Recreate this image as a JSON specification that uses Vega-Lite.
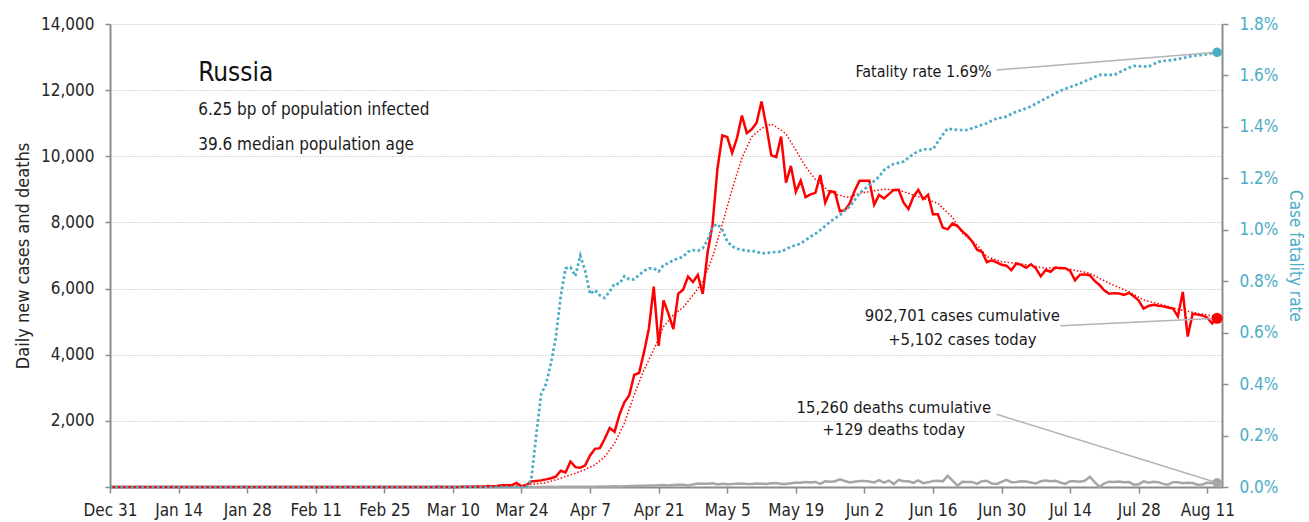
{
"$schema":"https://vega.github.io/schema/vega-lite/v6.json",
"width":1112,"height":463,"autosize":"none",
"padding":{"left":110,"top":24,"right":87,"bottom":35},
"config":{"font":"DejaVu Sans Condensed","view":{"stroke":null},"background":"white"},
"datasets":{
"daily":[
{"date":"2019-12-31","cases":0,"ma":0,"deaths":0,"cfr":0},
{"date":"2020-01-01","cases":0,"ma":0,"deaths":0,"cfr":0},{"date":"2020-01-02","cases":0,"ma":0,"deaths":0,"cfr":0},{"date":"2020-01-03","cases":0,"ma":0,"deaths":0,"cfr":0},{"date":"2020-01-04","cases":0,"ma":0,"deaths":0,"cfr":0},{"date":"2020-01-05","cases":0,"ma":0,"deaths":0,"cfr":0},{"date":"2020-01-06","cases":0,"ma":0,"deaths":0,"cfr":0},{"date":"2020-01-07","cases":0,"ma":0,"deaths":0,"cfr":0},{"date":"2020-01-08","cases":0,"ma":0,"deaths":0,"cfr":0},{"date":"2020-01-09","cases":0,"ma":0,"deaths":0,"cfr":0},{"date":"2020-01-10","cases":0,"ma":0,"deaths":0,"cfr":0},
{"date":"2020-01-11","cases":0,"ma":0,"deaths":0,"cfr":0},{"date":"2020-01-12","cases":0,"ma":0,"deaths":0,"cfr":0},{"date":"2020-01-13","cases":0,"ma":0,"deaths":0,"cfr":0},{"date":"2020-01-14","cases":0,"ma":0,"deaths":0,"cfr":0},{"date":"2020-01-15","cases":0,"ma":0,"deaths":0,"cfr":0},{"date":"2020-01-16","cases":0,"ma":0,"deaths":0,"cfr":0},{"date":"2020-01-17","cases":0,"ma":0,"deaths":0,"cfr":0},{"date":"2020-01-18","cases":0,"ma":0,"deaths":0,"cfr":0},{"date":"2020-01-19","cases":0,"ma":0,"deaths":0,"cfr":0},{"date":"2020-01-20","cases":0,"ma":0,"deaths":0,"cfr":0},
{"date":"2020-01-21","cases":0,"ma":0,"deaths":0,"cfr":0},{"date":"2020-01-22","cases":0,"ma":0,"deaths":0,"cfr":0},{"date":"2020-01-23","cases":0,"ma":0,"deaths":0,"cfr":0},{"date":"2020-01-24","cases":0,"ma":0,"deaths":0,"cfr":0},{"date":"2020-01-25","cases":0,"ma":0,"deaths":0,"cfr":0},{"date":"2020-01-26","cases":0,"ma":0,"deaths":0,"cfr":0},{"date":"2020-01-27","cases":0,"ma":0,"deaths":0,"cfr":0},{"date":"2020-01-28","cases":0,"ma":0,"deaths":0,"cfr":0},{"date":"2020-01-29","cases":0,"ma":0,"deaths":0,"cfr":0},{"date":"2020-01-30","cases":0,"ma":0,"deaths":0,"cfr":0},
{"date":"2020-01-31","cases":0,"ma":0,"deaths":0,"cfr":0},{"date":"2020-02-01","cases":2,"ma":0,"deaths":0,"cfr":0},{"date":"2020-02-02","cases":0,"ma":0,"deaths":0,"cfr":0},{"date":"2020-02-03","cases":0,"ma":0,"deaths":0,"cfr":0},{"date":"2020-02-04","cases":0,"ma":0,"deaths":0,"cfr":0},{"date":"2020-02-05","cases":0,"ma":0,"deaths":0,"cfr":0},{"date":"2020-02-06","cases":0,"ma":0,"deaths":0,"cfr":0},{"date":"2020-02-07","cases":0,"ma":0,"deaths":0,"cfr":0},{"date":"2020-02-08","cases":0,"ma":0,"deaths":0,"cfr":0},{"date":"2020-02-09","cases":0,"ma":0,"deaths":0,"cfr":0},
{"date":"2020-02-10","cases":0,"ma":0,"deaths":0,"cfr":0},{"date":"2020-02-11","cases":0,"ma":0,"deaths":0,"cfr":0},{"date":"2020-02-12","cases":0,"ma":0,"deaths":0,"cfr":0},{"date":"2020-02-13","cases":0,"ma":0,"deaths":0,"cfr":0},{"date":"2020-02-14","cases":0,"ma":0,"deaths":0,"cfr":0},{"date":"2020-02-15","cases":0,"ma":0,"deaths":0,"cfr":0},{"date":"2020-02-16","cases":0,"ma":0,"deaths":0,"cfr":0},{"date":"2020-02-17","cases":0,"ma":0,"deaths":0,"cfr":0},{"date":"2020-02-18","cases":0,"ma":0,"deaths":0,"cfr":0},{"date":"2020-02-19","cases":0,"ma":0,"deaths":0,"cfr":0},
{"date":"2020-02-20","cases":0,"ma":0,"deaths":0,"cfr":0},{"date":"2020-02-21","cases":0,"ma":0,"deaths":0,"cfr":0},{"date":"2020-02-22","cases":0,"ma":0,"deaths":0,"cfr":0},{"date":"2020-02-23","cases":0,"ma":0,"deaths":0,"cfr":0},{"date":"2020-02-24","cases":0,"ma":0,"deaths":0,"cfr":0},{"date":"2020-02-25","cases":0,"ma":0,"deaths":0,"cfr":0},{"date":"2020-02-26","cases":0,"ma":0,"deaths":0,"cfr":0},{"date":"2020-02-27","cases":0,"ma":0,"deaths":0,"cfr":0},{"date":"2020-02-28","cases":0,"ma":0,"deaths":0,"cfr":0},{"date":"2020-02-29","cases":0,"ma":0,"deaths":0,"cfr":0},
{"date":"2020-03-01","cases":0,"ma":0,"deaths":0,"cfr":0},{"date":"2020-03-02","cases":0,"ma":0,"deaths":0,"cfr":0},{"date":"2020-03-03","cases":1,"ma":0,"deaths":0,"cfr":0},{"date":"2020-03-04","cases":0,"ma":0,"deaths":0,"cfr":0},{"date":"2020-03-05","cases":0,"ma":0,"deaths":0,"cfr":0},{"date":"2020-03-06","cases":1,"ma":0,"deaths":0,"cfr":0},{"date":"2020-03-07","cases":6,"ma":0,"deaths":0,"cfr":0},{"date":"2020-03-08","cases":0,"ma":0,"deaths":0,"cfr":0},{"date":"2020-03-09","cases":3,"ma":0,"deaths":0,"cfr":0},{"date":"2020-03-10","cases":0,"ma":0,"deaths":0,"cfr":0},
{"date":"2020-03-11","cases":3,"deaths":0,"cfr":0},{"date":"2020-03-12","cases":8,"deaths":0,"cfr":0},{"date":"2020-03-13","cases":6,"deaths":0,"cfr":0},{"date":"2020-03-14","cases":11,"deaths":0,"cfr":0},{"date":"2020-03-15","cases":14,"deaths":0,"cfr":0},{"date":"2020-03-16","cases":4,"deaths":0,"cfr":0},{"date":"2020-03-17","cases":27,"deaths":0,"cfr":0},{"date":"2020-03-18","cases":24,"ma":20,"deaths":0,"cfr":0},{"date":"2020-03-19","cases":33,"deaths":0,"cfr":0},{"date":"2020-03-20","cases":52,"deaths":0,"cfr":0},
{"date":"2020-03-21","cases":54,"deaths":0,"cfr":0},{"date":"2020-03-22","cases":53,"deaths":0,"cfr":0},{"date":"2020-03-23","cases":125,"deaths":0,"cfr":0},{"date":"2020-03-24","cases":25,"ma":50,"deaths":0,"cfr":0},{"date":"2020-03-25","cases":60,"deaths":0,"cfr":0},{"date":"2020-03-26","cases":170,"deaths":1,"cfr":0.0003},{"date":"2020-03-27","cases":185,"deaths":1,"cfr":0.002},{"date":"2020-03-28","cases":200,"deaths":1,"cfr":0.0036},{"date":"2020-03-29","cases":230,"ma":130,"deaths":1,"cfr":0.004},{"date":"2020-03-30","cases":265,"deaths":4,"cfr":0.0048},
{"date":"2020-03-31","cases":310,"deaths":1,"cfr":0.0058},{"date":"2020-04-01","cases":490,"ma":263,"deaths":8,"cfr":0.0074},{"date":"2020-04-02","cases":440,"deaths":7,"cfr":0.0085},{"date":"2020-04-03","cases":771,"deaths":6,"cfr":0.00855},{"date":"2020-04-04","cases":601,"deaths":4,"cfr":0.0082},{"date":"2020-04-05","cases":582,"ma":470,"deaths":9,"cfr":0.009},{"date":"2020-04-06","cases":658,"deaths":4,"cfr":0.0084},{"date":"2020-04-07","cases":954,"deaths":11,"cfr":0.0075},{"date":"2020-04-08","cases":1154,"ma":665,"deaths":5,"cfr":0.00765},{"date":"2020-04-09","cases":1175,"deaths":13,"cfr":0.00745},
{"date":"2020-04-10","cases":1459,"ma":917,"deaths":18,"cfr":0.00735},{"date":"2020-04-11","cases":1786,"deaths":12,"cfr":0.0076},{"date":"2020-04-12","cases":1667,"ma":1321,"deaths":24,"cfr":0.0079},{"date":"2020-04-13","cases":2186,"deaths":18,"cfr":0.0079},{"date":"2020-04-14","cases":2558,"ma":1926,"deaths":22,"cfr":0.0082},{"date":"2020-04-15","cases":2774,"deaths":28,"cfr":0.00807},{"date":"2020-04-16","cases":3388,"ma":2782,"deaths":34,"cfr":0.00807},{"date":"2020-04-17","cases":3448,"deaths":41,"cfr":0.00824},{"date":"2020-04-18","cases":4070,"ma":3538,"deaths":40,"cfr":0.0084},{"date":"2020-04-19","cases":4785,"deaths":48,"cfr":0.0085},
{"date":"2020-04-20","cases":6060,"ma":4150,"deaths":44,"cfr":0.0085},{"date":"2020-04-21","cases":4268,"deaths":51,"cfr":0.00838},{"date":"2020-04-22","cases":5642,"ma":4850,"deaths":57,"cfr":0.00863},{"date":"2020-04-23","cases":5236,"deaths":42,"cfr":0.0087},{"date":"2020-04-24","cases":4774,"ma":5200,"deaths":60,"cfr":0.00882},{"date":"2020-04-25","cases":5849,"deaths":66,"cfr":0.00889},{"date":"2020-04-26","cases":5966,"ma":5430,"deaths":66,"cfr":0.00895},{"date":"2020-04-27","cases":6361,"deaths":47,"cfr":0.00915},{"date":"2020-04-28","cases":6198,"ma":5800,"deaths":73,"cfr":0.00921},{"date":"2020-04-29","cases":6411,"deaths":105,"cfr":0.00918},
{"date":"2020-04-30","cases":5841,"ma":6200,"deaths":101,"cfr":0.00928},{"date":"2020-05-01","cases":7099,"deaths":96,"cfr":0.0096},{"date":"2020-05-02","cases":7933,"ma":6950,"deaths":111,"cfr":0.01012},{"date":"2020-05-03","cases":9623,"deaths":76,"cfr":0.01022},{"date":"2020-05-04","cases":10633,"ma":7950,"deaths":95,"cfr":0.00999},{"date":"2020-05-05","cases":10581,"deaths":86,"cfr":0.00955},{"date":"2020-05-06","cases":10102,"ma":9000,"deaths":88,"cfr":0.00935},{"date":"2020-05-07","cases":10559,"deaths":98,"cfr":0.00926},{"date":"2020-05-08","cases":11231,"ma":9950,"deaths":104,"cfr":0.00922},{"date":"2020-05-09","cases":10699,"deaths":88,"cfr":0.00918},
{"date":"2020-05-10","cases":10817,"ma":10590,"deaths":94,"cfr":0.00918},{"date":"2020-05-11","cases":11012,"deaths":107,"cfr":0.00915},{"date":"2020-05-12","cases":11656,"ma":10845,"deaths":96,"cfr":0.00908},{"date":"2020-05-13","cases":10899,"deaths":93,"cfr":0.0091},{"date":"2020-05-14","cases":10028,"ma":10977,"deaths":113,"cfr":0.00912},{"date":"2020-05-15","cases":9974,"deaths":119,"cfr":0.00914},{"date":"2020-05-16","cases":10598,"ma":10795,"deaths":94,"cfr":0.00915},{"date":"2020-05-17","cases":9200,"ma":10675,"deaths":91,"cfr":0.00925},{"date":"2020-05-18","cases":9709,"deaths":115,"cfr":0.00934},{"date":"2020-05-19","cases":8926,"ma":10191,"deaths":135,"cfr":0.0094},
{"date":"2020-05-20","cases":9263,"deaths":127,"cfr":0.00947},{"date":"2020-05-21","cases":8764,"ma":9686,"deaths":150,"cfr":0.0096},{"date":"2020-05-22","cases":8849,"deaths":139,"cfr":0.00973},{"date":"2020-05-23","cases":8894,"ma":9300,"deaths":153,"cfr":0.00985},{"date":"2020-05-24","cases":9434,"ma":9185,"deaths":92,"cfr":0.00999},{"date":"2020-05-25","cases":8599,"deaths":174,"cfr":0.01015},{"date":"2020-05-26","cases":8946,"ma":8900,"deaths":161,"cfr":0.01031},{"date":"2020-05-27","cases":8915,"deaths":174,"cfr":0.01045},{"date":"2020-05-28","cases":8338,"deaths":232,"cfr":0.01057},{"date":"2020-05-29","cases":8371,"ma":8779,"deaths":181,"cfr":0.01075},
{"date":"2020-05-30","cases":8572,"ma":8761,"deaths":138,"cfr":0.0109},{"date":"2020-05-31","cases":8952,"deaths":162,"cfr":0.01115},{"date":"2020-06-01","cases":9263,"ma":8882,"deaths":182,"cfr":0.01142},{"date":"2020-06-02","cases":9263,"deaths":178,"cfr":0.01158},{"date":"2020-06-03","cases":9263,"deaths":169,"cfr":0.01174},{"date":"2020-06-04","cases":8536,"ma":8960,"deaths":136,"cfr":0.0119},{"date":"2020-06-05","cases":8831,"deaths":205,"cfr":0.01206},{"date":"2020-06-06","cases":8726,"ma":9002,"deaths":134,"cfr":0.01232},{"date":"2020-06-07","cases":8855,"deaths":195,"cfr":0.01245},{"date":"2020-06-08","cases":8984,"deaths":88,"cfr":0.01256},
{"date":"2020-06-09","cases":8985,"ma":8982,"deaths":216,"cfr":0.0126},{"date":"2020-06-10","cases":8595,"deaths":174,"cfr":0.01265},{"date":"2020-06-11","cases":8404,"deaths":173,"cfr":0.0128},{"date":"2020-06-12","cases":8779,"ma":8830,"deaths":124,"cfr":0.01295},{"date":"2020-06-13","cases":8987,"deaths":197,"cfr":0.01305},{"date":"2020-06-14","cases":8706,"ma":8730,"deaths":117,"cfr":0.01313},{"date":"2020-06-15","cases":8835,"deaths":141,"cfr":0.01313},{"date":"2020-06-16","cases":8246,"deaths":184,"cfr":0.01313},{"date":"2020-06-17","cases":8248,"ma":8579,"deaths":192,"cfr":0.01342},{"date":"2020-06-18","cases":7843,"deaths":171,"cfr":0.0137},
{"date":"2020-06-19","cases":7790,"deaths":340,"cfr":0.01394},{"date":"2020-06-20","cases":7972,"ma":8150,"deaths":190,"cfr":0.0139},{"date":"2020-06-21","cases":7889,"deaths":40,"cfr":0.01388},{"date":"2020-06-22","cases":7728,"ma":7672,"deaths":161,"cfr":0.01388},{"date":"2020-06-23","cases":7600,"deaths":153,"cfr":0.01388},{"date":"2020-06-24","cases":7425,"deaths":154,"cfr":0.01395},{"date":"2020-06-25","cases":7176,"ma":7318,"deaths":92,"cfr":0.01401},{"date":"2020-06-26","cases":7113,"deaths":176,"cfr":0.01408},{"date":"2020-06-27","cases":6800,"ma":6964,"deaths":188,"cfr":0.01414},{"date":"2020-06-28","cases":6852,"deaths":104,"cfr":0.01424},
{"date":"2020-06-29","cases":6791,"deaths":93,"cfr":0.01433},{"date":"2020-06-30","cases":6719,"ma":6813,"deaths":154,"cfr":0.01436},{"date":"2020-07-01","cases":6693,"deaths":216,"cfr":0.0144},{"date":"2020-07-02","cases":6556,"deaths":147,"cfr":0.0145},{"date":"2020-07-03","cases":6760,"ma":6763,"deaths":154,"cfr":0.01459},{"date":"2020-07-04","cases":6718,"deaths":176,"cfr":0.01465},{"date":"2020-07-05","cases":6632,"deaths":168,"cfr":0.01472},{"date":"2020-07-06","cases":6736,"ma":6700,"deaths":135,"cfr":0.0148},{"date":"2020-07-07","cases":6611,"deaths":104,"cfr":0.0149},{"date":"2020-07-08","cases":6368,"deaths":173,"cfr":0.015},
{"date":"2020-07-09","cases":6562,"ma":6613,"deaths":198,"cfr":0.01511},{"date":"2020-07-10","cases":6509,"deaths":174,"cfr":0.0152},{"date":"2020-07-11","cases":6635,"deaths":188,"cfr":0.01531},{"date":"2020-07-12","cases":6611,"ma":6643,"deaths":135,"cfr":0.0154},{"date":"2020-07-13","cases":6615,"deaths":95,"cfr":0.01548},{"date":"2020-07-14","cases":6537,"deaths":175,"cfr":0.01555},{"date":"2020-07-15","cases":6248,"deaths":174,"cfr":0.01562},{"date":"2020-07-16","cases":6422,"deaths":157,"cfr":0.01569},{"date":"2020-07-17","cases":6428,"deaths":186,"cfr":0.01577},{"date":"2020-07-18","cases":6406,"ma":6462,"deaths":312,"cfr":0.01585},
{"date":"2020-07-19","cases":6234,"deaths":150,"cfr":0.01594},{"date":"2020-07-20","cases":6109,"deaths":5,"cfr":0.01602},{"date":"2020-07-21","cases":5940,"deaths":111,"cfr":0.01602},{"date":"2020-07-22","cases":5842,"ma":6160,"deaths":161,"cfr":0.01602},{"date":"2020-07-23","cases":5862,"deaths":154,"cfr":0.01602},{"date":"2020-07-24","cases":5848,"deaths":165,"cfr":0.01612},{"date":"2020-07-25","cases":5811,"deaths":146,"cfr":0.01621},{"date":"2020-07-26","cases":5871,"ma":5906,"deaths":150,"cfr":0.0163},{"date":"2020-07-27","cases":5765,"deaths":72,"cfr":0.01637},{"date":"2020-07-28","cases":5635,"deaths":85,"cfr":0.01636},
{"date":"2020-07-29","cases":5395,"ma":5655,"deaths":169,"cfr":0.01635},{"date":"2020-07-30","cases":5475,"deaths":129,"cfr":0.01634},{"date":"2020-07-31","cases":5509,"deaths":161,"cfr":0.01644},{"date":"2020-08-01","cases":5482,"deaths":147,"cfr":0.01653},{"date":"2020-08-02","cases":5462,"ma":5504,"deaths":95,"cfr":0.01656},{"date":"2020-08-03","cases":5427,"deaths":70,"cfr":0.01658},{"date":"2020-08-04","cases":5394,"deaths":147,"cfr":0.0166},{"date":"2020-08-05","cases":5159,"ma":5374,"deaths":144,"cfr":0.01664},{"date":"2020-08-06","cases":5900,"deaths":114,"cfr":0.01667},{"date":"2020-08-07","cases":4550,"deaths":129,"cfr":0.01672},
{"date":"2020-08-08","cases":5241,"deaths":119,"cfr":0.01676},{"date":"2020-08-09","cases":5212,"ma":5252,"deaths":70,"cfr":0.01678},{"date":"2020-08-10","cases":5189,"deaths":77,"cfr":0.0168},{"date":"2020-08-11","cases":5118,"deaths":130,"cfr":0.01683},{"date":"2020-08-12","cases":4945,"deaths":123,"cfr":0.01686},{"date":"2020-08-13","cases":5102,"ma":5150,"deaths":129,"cfr":0.0169}
],
"notes":[
{"kind":"title","t":"Russia","date":"2020-01-18","v":12287},
{"kind":"left","t":"6.25 bp of population infected","date":"2020-01-18","v":11249},
{"kind":"left","t":"39.6 median population age","date":"2020-01-18","v":10191},
{"kind":"center","t":"902,701 cases cumulative","date":"2020-06-22","v":5020},
{"kind":"center","t":"+5,102 cases today","date":"2020-06-22","v":4294},
{"kind":"center","t":"15,260 deaths cumulative","date":"2020-06-08","v":2229},
{"kind":"center","t":"+129 deaths today","date":"2020-06-08","v":1572},
{"kind":"right","t":"Fatality rate 1.69%","date":"2020-06-28","v":0.01595}
],
"links":[
{"side":"L","date":"2020-07-12","v":4878,"date2":"2020-08-13","v2":5102},
{"side":"L","date":"2020-06-29","v":2198,"date2":"2020-08-13","v2":129},
{"side":"R","date":"2020-06-29","v":0.01621,"date2":"2020-08-13","v2":0.0169}
]
},
"encoding":{
"x":{"field":"date","type":"temporal","title":null,
"scale":{"type":"utc","domain":[{"year":2019,"month":12,"date":31,"utc":true},{"year":2020,"month":8,"date":14,"utc":true}]},
"axis":{"title":null,"grid":false,"labelExpr":"utcFormat(datum.value, '%b %-d')",
"values":[{"year":2019,"month":12,"date":31,"utc":true},{"year":2020,"month":1,"date":14,"utc":true},{"year":2020,"month":1,"date":28,"utc":true},{"year":2020,"month":2,"date":11,"utc":true},{"year":2020,"month":2,"date":25,"utc":true},{"year":2020,"month":3,"date":10,"utc":true},{"year":2020,"month":3,"date":24,"utc":true},{"year":2020,"month":4,"date":7,"utc":true},{"year":2020,"month":4,"date":21,"utc":true},{"year":2020,"month":5,"date":5,"utc":true},{"year":2020,"month":5,"date":19,"utc":true},{"year":2020,"month":6,"date":2,"utc":true},{"year":2020,"month":6,"date":16,"utc":true},{"year":2020,"month":6,"date":30,"utc":true},{"year":2020,"month":7,"date":14,"utc":true},{"year":2020,"month":7,"date":28,"utc":true},{"year":2020,"month":8,"date":11,"utc":true}],
"labelFlush":false,"labelOverlap":false,"labelBound":false,
"domainColor":"#8c8c8c","domainWidth":2,"tickColor":"#8c8c8c","tickWidth":1.5,"tickSize":6,
"labelPadding":9,"labelFontSize":17,"labelColor":"#262626"}}
},
"layer":[
{"layer":[
{"data":{"name":"daily"},"mark":{"type":"line","color":"#a6a6a6","strokeWidth":2.5,"invalid":"filter"},
 "encoding":{"y":{"field":"deaths","type":"quantitative","scale":{"domain":[0,14000],"nice":false},
 "title":"Daily new cases and deaths",
 "axis":{"orient":"left","values":[0,2000,4000,6000,8000,10000,12000,14000],
 "labelExpr":"datum.value == 0 ? '' : format(datum.value, ',')",
 "grid":true,"gridColor":"#b0b0b0","gridDash":[1,2],"gridWidth":1,
 "domainColor":"#8c8c8c","domainWidth":2,"tickColor":"#8c8c8c","tickWidth":1.5,"tickSize":5,
 "labelPadding":11,"labelFontSize":17,"labelColor":"#262626",
 "titleFontSize":18,"titleColor":"#262626","titleFontWeight":"normal","titlePadding":8}}}},
{"data":{"name":"daily"},"mark":{"type":"line","color":"#ff0000","strokeWidth":1.5,"strokeDash":[1.5,2],"invalid":"filter"},
 "encoding":{"y":{"field":"ma","type":"quantitative","scale":{"domain":[0,14000],"nice":false},"title":"Daily new cases and deaths"}}},
{"data":{"name":"daily"},"mark":{"type":"line","color":"#ff0000","strokeWidth":2.5,"invalid":"filter"},
 "encoding":{"y":{"field":"cases","type":"quantitative","scale":{"domain":[0,14000],"nice":false},"title":"Daily new cases and deaths"}}},
{"data":{"name":"links"},"transform":[{"filter":"datum.side == 'L'"}],
 "mark":{"type":"rule","color":"#b3b3b3","strokeWidth":1.5},
 "encoding":{"x2":{"field":"date2"},"y":{"field":"v","type":"quantitative","scale":{"domain":[0,14000],"nice":false},"title":"Daily new cases and deaths"},"y2":{"field":"v2"}}},
{"data":{"name":"daily"},"transform":[{"filter":"+toDate(datum.date) == +toDate('2020-08-13')"}],
 "mark":{"type":"point","filled":true,"color":"#ff0000","size":120,"opacity":1},
 "encoding":{"y":{"field":"cases","type":"quantitative","scale":{"domain":[0,14000],"nice":false},"title":"Daily new cases and deaths"}}},
{"data":{"name":"daily"},"transform":[{"filter":"+toDate(datum.date) == +toDate('2020-08-13')"}],
 "mark":{"type":"point","filled":true,"color":"#a6a6a6","size":90,"opacity":1},
 "encoding":{"y":{"field":"deaths","type":"quantitative","scale":{"domain":[0,14000],"nice":false},"title":"Daily new cases and deaths"}}},
{"data":{"name":"notes"},"transform":[{"filter":"datum.kind == 'title'"}],
 "mark":{"type":"text","align":"left","baseline":"alphabetic","fontSize":26,"color":"#111111"},
 "encoding":{"y":{"field":"v","type":"quantitative","scale":{"domain":[0,14000],"nice":false},"title":"Daily new cases and deaths"},"text":{"field":"t"}}},
{"data":{"name":"notes"},"transform":[{"filter":"datum.kind == 'left'"}],
 "mark":{"type":"text","align":"left","baseline":"alphabetic","fontSize":17,"color":"#1a1a1a"},
 "encoding":{"y":{"field":"v","type":"quantitative","scale":{"domain":[0,14000],"nice":false},"title":"Daily new cases and deaths"},"text":{"field":"t"}}},
{"data":{"name":"notes"},"transform":[{"filter":"datum.kind == 'center'"}],
 "mark":{"type":"text","align":"center","baseline":"alphabetic","fontSize":16.5,"color":"#1a1a1a"},
 "encoding":{"y":{"field":"v","type":"quantitative","scale":{"domain":[0,14000],"nice":false},"title":"Daily new cases and deaths"},"text":{"field":"t"}}}
]},
{"layer":[
{"data":{"name":"daily"},"mark":{"type":"line","color":"#4bacc6","strokeWidth":2.7,"strokeDash":[2.7,2.5],"invalid":"filter"},
 "encoding":{"y":{"field":"cfr","type":"quantitative","scale":{"domain":[0,0.018],"nice":false},
 "title":"Case fatality rate",
 "axis":{"orient":"right","values":[0,0.002,0.004,0.006,0.008,0.01,0.012,0.014,0.016,0.018],"format":".1%",
 "grid":false,"domainColor":"#8c8c8c","domainWidth":2,"tickColor":"#8c8c8c","tickWidth":1.5,"tickSize":6,
 "labelPadding":11,"labelFontSize":17,"labelColor":"#4bacc6",
 "titleFontSize":17,"titleColor":"#4bacc6","titleFontWeight":"normal","titlePadding":8}}}},
{"data":{"name":"links"},"transform":[{"filter":"datum.side == 'R'"}],
 "mark":{"type":"rule","color":"#b3b3b3","strokeWidth":1.5},
 "encoding":{"x2":{"field":"date2"},"y":{"field":"v","type":"quantitative","scale":{"domain":[0,0.018],"nice":false},"title":"Case fatality rate"},"y2":{"field":"v2"}}},
{"data":{"name":"daily"},"transform":[{"filter":"+toDate(datum.date) == +toDate('2020-08-13')"}],
 "mark":{"type":"point","filled":true,"color":"#4bacc6","size":90,"opacity":1},
 "encoding":{"y":{"field":"cfr","type":"quantitative","scale":{"domain":[0,0.018],"nice":false},"title":"Case fatality rate"}}},
{"data":{"name":"notes"},"transform":[{"filter":"datum.kind == 'right'"}],
 "mark":{"type":"text","align":"right","baseline":"alphabetic","fontSize":16,"color":"#1a1a1a"},
 "encoding":{"y":{"field":"v","type":"quantitative","scale":{"domain":[0,0.018],"nice":false},"title":"Case fatality rate"},"text":{"field":"t"}}}
]}
],
"resolve":{"scale":{"y":"independent"}}
}
